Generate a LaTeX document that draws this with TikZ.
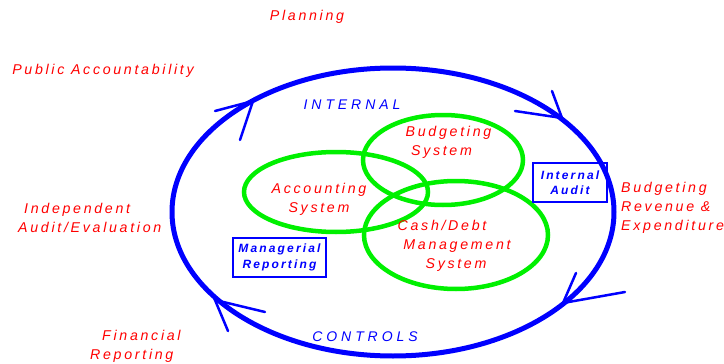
\documentclass[tikz,border=0pt]{standalone}
\usepackage{fontspec}
\setmainfont{Liberation Sans}
\newfontfamily\labfont[LetterSpace=19]{Liberation Sans}
\newfontfamily\capfont[LetterSpace=28]{Liberation Sans}
\newfontfamily\boxfont[LetterSpace=18]{Liberation Sans}
\usetikzlibrary{shapes.geometric}
\definecolor{cblue}{RGB}{0,0,255}
\definecolor{cred}{RGB}{255,0,0}
\definecolor{cgreen}{RGB}{0,240,0}
\begin{document}
\begin{tikzpicture}[x=1pt,y=-1pt,
  redlab/.style={text=cred, inner sep=0pt, align=center, font=\labfont\itshape\fontsize{14.2}{19}\selectfont},
  bluelab/.style={text=cblue, inner sep=0pt, font=\capfont\itshape\fontsize{14}{19}\selectfont},
  bluebox/.style={draw=cblue, line width=2pt, text=cblue, align=center, inner sep=0pt,
     font=\boxfont\bfseries\itshape\fontsize{12}{15.5}\selectfont},
  ring/.style={draw=cblue, line width=5pt, ellipse, inner sep=0pt},
  sys/.style={draw=cgreen, line width=4.5pt, ellipse, inner sep=0pt},
  tip/.style={draw=cblue, line width=2.5pt, line cap=round, line join=miter}]
\useasboundingbox (0,0) rectangle (724,364);
% main cycle
\node[ring, minimum width=442pt, minimum height=288pt] (cycle) at (393,212) {};
% systems
\node[sys, minimum width=184pt, minimum height=80pt] (acc) at (336,192) {};
\node[sys, minimum width=160pt, minimum height=90pt] (bud) at (443,160) {};
\node[sys, minimum width=184pt, minimum height=108pt] (cash) at (456,235) {};
% arrowheads on the cycle
\coordinate (a1) at (253,101); \coordinate (a1l) at (215,111); \coordinate (a1r) at (240,140);
\draw[tip] (a1l) -- (a1) -- (a1r);
\coordinate (a2) at (562,118); \coordinate (a2l) at (515,111); \coordinate (a2r) at (552,91);
\draw[tip] (a2l) -- (a2) -- (a2r);
\coordinate (a3) at (563,303); \coordinate (a3l) at (576,273); \coordinate (a3r) at (625,292);
\draw[tip] (a3l) -- (a3) -- (a3r);
\coordinate (a4) at (215,300); \coordinate (a4l) at (265,312); \coordinate (a4r) at (228,331);
\draw[tip] (a4l) -- (a4) -- (a4r);
% labels inside
\node[bluelab] (internal) at (352,105) {INTERNAL};
\node[bluelab] (controls) at (365,337) {CONTROLS};
\node[redlab] (budtxt) at (441.5,142) {\hspace*{14pt}Budgeting\\System};
\node[redlab] (acctxt) at (319,199) {Accounting\\System};
\node[redlab] (cashtxt) at (457,246) {Cash/Debt\hspace*{30pt}\\Management\\System\hspace*{2pt}};
\node[bluebox, minimum width=93pt, minimum height=39pt] (mgr) at (279.5,257.5) {Managerial\\Reporting};
\node[bluebox, minimum width=74pt, minimum height=39pt] (ia) at (570,182.5) {Internal\\Audit};
% labels outside
\node[redlab] (plan) at (307,17) {Planning};
\node[redlab] (pub) at (103,71) {Public Accountability};
\node[redlab, align=left, anchor=west] (indep) at (18,218) {\hspace*{6pt}Independent\\Audit/Evaluation};
\node[redlab, align=left, anchor=west] (fin) at (90,346) {\hspace*{12pt}Financial\\Reporting};
\node[redlab, align=left, anchor=west] (bre) at (621,208) {Budgeting\\Revenue \&\\Expenditure};
\end{tikzpicture}
\end{document}
